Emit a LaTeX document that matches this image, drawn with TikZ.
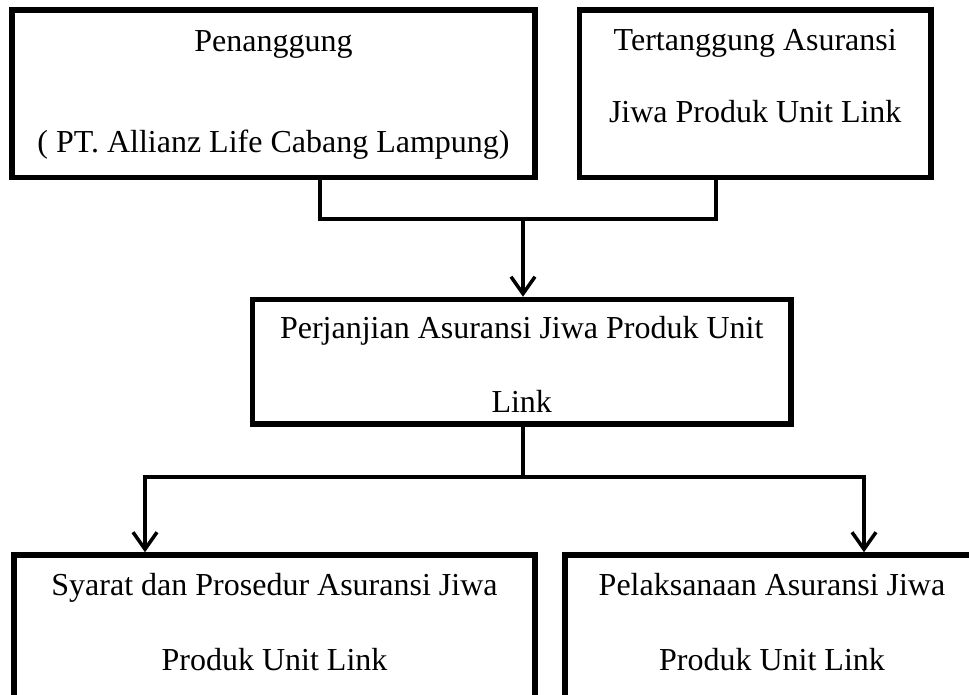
\documentclass[tikz,border=0pt]{standalone}
\usepackage{fontspec}
\setmainfont{Liberation Serif}
\usetikzlibrary{arrows.meta}

\begin{document}
\begin{tikzpicture}[x=1pt, y=-1pt,
  kotak/.style={draw, line width=5.5pt, inner sep=0pt},
  teks/.style={anchor=base, font=\fontsize{32}{38}\selectfont, inner sep=0pt},
  garis/.style={line width=3.5pt},
  panah/.style={garis, -{Straight Barb[length=17pt,width=24pt]}}]
\useasboundingbox (0,0) rectangle (969,695);
\clip (0,0) rectangle (969,695);

% kotak atas
\node[kotak, minimum width=523pt, minimum height=167.5pt] (penanggung) at (273.5,93.75) {};
\node[kotak, minimum width=351.5pt, minimum height=167.5pt] (tertanggung) at (755.25,93.75) {};
% kotak tengah
\node[kotak, minimum width=538.5pt, minimum height=124.5pt] (perjanjian) at (521.75,361.75) {};
% kotak bawah, terpotong di tepi gambar
\node[kotak, minimum width=521pt, minimum height=200pt] (syarat) at (274.5,655) {};
\node[kotak, minimum width=414pt, minimum height=200pt] (pelaksanaan) at (772,655) {};

% teks
\node[teks] (penanggung-a) at (273.5,52) {Penanggung};
\node[teks] (penanggung-b) at (273.5,153) {( PT. Allianz Life Cabang Lampung)};
\node[teks] (tertanggung-a) at (755.25,51) {Tertanggung Asuransi};
\node[teks] (tertanggung-b) at (755.25,123) {Jiwa Produk Unit Link};
\node[teks] (perjanjian-a) at (521.75,338) {Perjanjian Asuransi Jiwa Produk Unit};
\node[teks] (perjanjian-b) at (521.75,412) {Link};
\node[teks] (syarat-a) at (274.5,595) {Syarat dan Prosedur Asuransi Jiwa};
\node[teks] (syarat-b) at (274.5,670) {Produk Unit Link};
\node[teks] (pelaksanaan-a) at (772,595) {Pelaksanaan Asuransi Jiwa};
\node[teks] (pelaksanaan-b) at (772,670) {Produk Unit Link};

% penghubung
\coordinate (gabung) at (523,219);
\coordinate (cabang) at (523,477);
\draw[garis] ([xshift=46.5pt]penanggung.south) |- (gabung) -| ([xshift=-39.25pt]tertanggung.south);
\draw[panah] (gabung) -- (gabung |- perjanjian.north);
\draw[garis] (cabang |- perjanjian.south) -- (cabang);
\draw[panah] (cabang) -| ([xshift=-129.5pt]syarat.north);
\draw[panah] (cabang) -| ([xshift=92pt]pelaksanaan.north);

\end{tikzpicture}
\end{document}
